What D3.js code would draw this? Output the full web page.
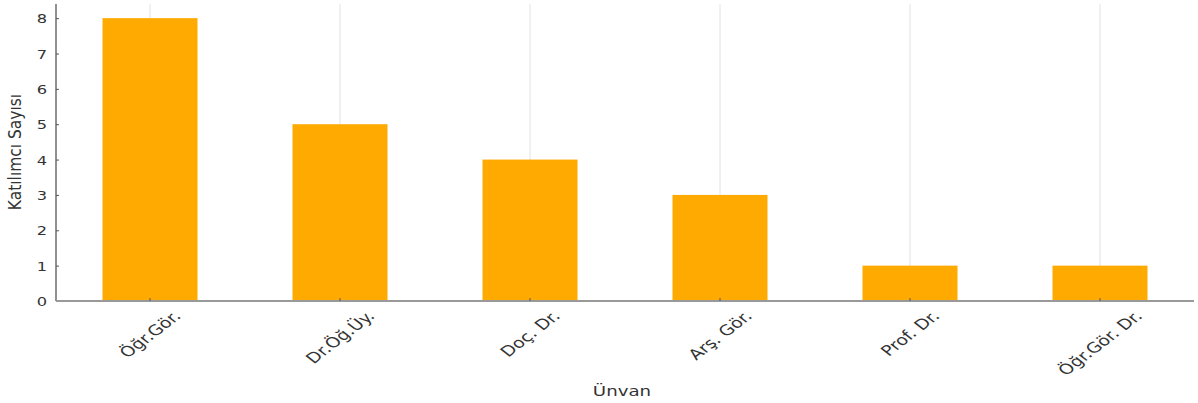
<!DOCTYPE html>
<html><head><meta charset="utf-8">
<script src="https://cdn.jsdelivr.net/npm/d3@7"></script>
<style>body{margin:0;background:#fff}svg{display:block}text{font-family:"DejaVu Sans",sans-serif}</style>
</head><body><svg id="c" width="1198" height="403"></svg>
<script>
const categories = ["Öğr.Gör.", "Dr.Öğ.Üy.", "Doç. Dr.", "Arş. Gör.", "Prof. Dr.", "Öğr.Gör. Dr."];
const values = [8, 5, 4, 3, 1, 1];
const yTicks = [0, 1, 2, 3, 4, 5, 6, 7, 8];
const xTitle = "Ünvan";
const yTitle = "Katılımcı Sayısı";

const svg = d3.select("#c");
const L = 56, R = 1194, T = 4, B = 301;
const SX = 1.3;
const x = d3.scaleBand().domain(categories).range([L - 1, R + 1]).padding(0.5).paddingOuter(0.25);
const y = d3.scaleLinear().domain([0, 8.4]).range([B, T]);

// vertical grid
svg.append("g").selectAll("line").data(categories).join("line")
  .attr("x1", d => x(d) + x.bandwidth() / 2).attr("x2", d => x(d) + x.bandwidth() / 2)
  .attr("y1", T).attr("y2", B).attr("stroke", "#e2e2e2").attr("stroke-width", 1);

// bars
svg.append("g").selectAll("rect").data(values).join("rect")
  .attr("x", (d, i) => x(categories[i])).attr("width", x.bandwidth())
  .attr("y", d => y(d)).attr("height", d => B - y(d)).attr("fill", "#FFAA00");

// y axis
const ya = svg.append("g").attr("transform", `translate(${L},0)`)
  .call(d3.axisLeft(y).tickValues(yTicks).tickFormat(d3.format("d")).tickSizeInner(-3).tickSizeOuter(0).tickPadding(0));
ya.select(".domain").attr("stroke", "#555").attr("stroke-width", 1.3).attr("d", `M0,${T}V${B}`);
ya.selectAll(".tick line").attr("stroke", "#555");
ya.selectAll(".tick text").attr("font-size", 12.5).attr("fill", "#333").attr("font-family", "DejaVu Sans")
  .attr("text-anchor", "middle").attr("x", null).attr("dy", "0.36em")
  .attr("transform", `translate(-14,0) scale(${SX},1)`);

// x axis
const xa = svg.append("g").attr("transform", `translate(0,${B})`)
  .call(d3.axisBottom(x).tickSizeInner(-3).tickSizeOuter(0).tickFormat(""));
xa.select(".domain").attr("stroke", "#999").attr("stroke-width", 2).attr("d", `M${L},0H${R}`);
xa.selectAll(".tick line").attr("stroke", "#555");

// rotated labels
const lg = svg.append("g");
categories.forEach(c => {
  const cx = x(c) + x.bandwidth() / 2;
  const t = lg.append("text").text(c).attr("font-size", 14.5).attr("fill", "#333")
    .attr("text-anchor", "middle").attr("dominant-baseline", "central");
  const len = t.node().getComputedTextLength();
  const h = 12;
  const bh = (len + h) * Math.SQRT1_2;
  const cy = 309 + bh / 2;
  t.attr("transform", `translate(${cx},${cy}) scale(${SX},1) rotate(-45)`);
});

svg.append("text").text(xTitle).attr("transform", `translate(622,396) scale(${SX},1)`)
  .attr("text-anchor", "middle").attr("font-size", 14).attr("fill", "#333");
svg.append("text").text(yTitle).attr("transform", `translate(21,152) scale(1.1,1) rotate(-90)`)
  .attr("text-anchor", "middle").attr("font-size", 15.5).attr("fill", "#333");
</script></body></html>
